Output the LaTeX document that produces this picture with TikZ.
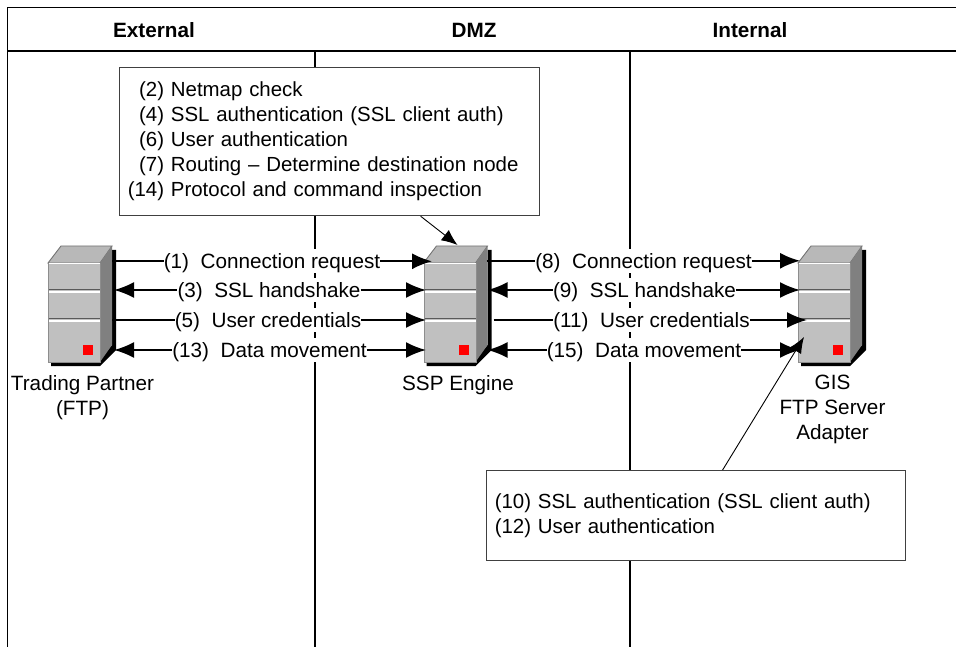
\documentclass[tikz,border=0pt]{standalone}
\usepackage{fontspec}
\setmainfont{Liberation Sans}
\usetikzlibrary{arrows.meta,positioning}
\definecolor{srvfront}{HTML}{C0C0C0}
\definecolor{srvside}{HTML}{808080}
\definecolor{srvtop}{HTML}{B8B8B8}
\tikzset{lane/.style={draw=black,line width=1.2pt},
		title/.style={font=\fontsize{20.7}{25}\selectfont\bfseries,inner sep=0pt},
		flowlabel/.style={font=\fontsize{20.7}{25}\selectfont,fill=white,inner sep=0pt,text height=19.5pt,text depth=4.7pt},
		caption/.style={font=\fontsize{20.7}{25}\selectfont,align=center,inner sep=0pt},
		notebox/.style={rectangle,draw=black!75,line width=1.2pt,fill=white,font=\fontsize{20.43}{25}\selectfont,align=left,inner xsep=8.2pt,inner ysep=0pt,anchor=north west},
		post/.style={-{Latex[length=20pt,width=16pt]},line width=1.9pt},
		pre/.style={{Latex[length=20pt,width=16pt]}-,line width=1.9pt},
		plain/.style={line width=1.9pt},
		callout/.style={-{Latex[length=16pt,width=13pt]},line width=0.9pt}}
% #1 node name, #2 left edge of the front face
\newcommand{\serverbox}[2]{
	\begin{scope}[xshift=#2pt]
		\fill[black] (3,360) -- (3,366) -- (52,366) -- (68,350) -- (68,250) -- (64,250) -- (64,345) -- (52,360) -- cycle;
		\draw[srvside!110,fill=srvtop,line width=0.9pt] (0,263) -- (13,246) -- (64,246) -- (52,263) -- cycle;
		\fill[srvside] (52,263) -- (64,246) -- (64,345) -- (52,362) -- cycle;
		\node[rectangle,draw=srvside!90,fill=srvfront,line width=1pt,minimum width=52pt,minimum height=99pt,inner sep=0pt,anchor=north west] (#1) at (0,263) {};
		\draw[white,line width=1.3pt] (1,263.5) -- (52,263.5);
		\foreach \bandy in {289.5,318.5} {
			\draw[srvside!70!black,line width=1.3pt] (1,\bandy) -- (52,\bandy);
			\draw[white,line width=1.8pt] (1,\bandy+2.5) -- (52,\bandy+2.5);
		}
		\fill[red] (35,345) rectangle (45,354.5);
	\end{scope}
}
\begin{document}
\begin{tikzpicture}[x=1pt,y=-1pt]
	\useasboundingbox (0,0) rectangle (956,647);
	\draw[lane] (956,7.5) -- (7.5,7.5) -- (7.5,647);
	\draw[lane] (7.5,51) -- (956,51);
	\draw[lane] (315,51) -- (315,647);
	\draw[lane] (630,51) -- (630,647);
	\node[title] (external) at (154,30) {External};
	\node[title] (dmz) at (474,30) {DMZ};
	\node[title] (internal) at (750,30) {Internal};

	\node[notebox,text width=403.6pt,minimum height=148pt] (checks) at (119,67) {\raisebox{-1pt}{\begin{tabular}{@{}r@{ }l@{}}
		(2) & Netmap check\\
		(4) & SSL authentication (SSL client auth)\\
		(6) & User authentication\\
		(7) & Routing – Determine destination node\\
		(14) & Protocol and command inspection
	\end{tabular}}};
	\node[notebox,text width=402.6pt,minimum height=90pt] (gischecks) at (486,470) {\raisebox{-1pt}{\begin{tabular}{@{}l@{}}
		(10) SSL authentication (SSL client auth)\\
		(12) User authentication
	\end{tabular}}};

	\serverbox{partner}{48}
	\serverbox{engine}{423.5}
	\serverbox{gis}{798}
	\node[caption,below=12.5pt of partner,xshift=8pt] (partner-name) {Trading Partner\\(FTP)};
	\node[caption,below=12.5pt of engine,xshift=8pt] (engine-name) {SSP Engine};
	\node[caption,below=11.5pt of gis,xshift=8pt] (gis-name) {GIS\\FTP Server\\Adapter};

	% trading partner to engine
	\node[flowlabel] (request-a) at (272,261.3) {(1)\ \ Connection request};
	\node[flowlabel] (handshake-a) at (269,290) {(3)\ \ SSL handshake};
	\node[flowlabel] (credentials-a) at (268,320) {(5)\ \ User credentials};
	\node[flowlabel] (movement-a) at (269.5,350) {(13)\ \ Data movement};
	\draw[plain] ([xshift=11pt]partner.east |- request-a) -- (request-a.west);
	\draw[post] (request-a.east) -- ([xshift=8.5pt]engine.west |- request-a);
	\draw[pre] ([xshift=13pt]partner.east |- handshake-a) -- (handshake-a.west);
	\draw[post] (handshake-a.east) -- ([xshift=2.5pt]engine.west |- handshake-a);
	\draw[plain] ([xshift=11pt]partner.east |- credentials-a) -- (credentials-a.west);
	\draw[post] (credentials-a.east) -- ([xshift=2.5pt]engine.west |- credentials-a);
	\draw[pre] ([xshift=13pt]partner.east |- movement-a) -- (movement-a.west);
	\draw[post] (movement-a.east) -- ([xshift=2.5pt]engine.west |- movement-a);

	% engine to adapter
	\node[flowlabel] (request-b) at (643.5,260.8) {(8)\ \ Connection request};
	\node[flowlabel] (handshake-b) at (644.5,290) {(9)\ \ SSL handshake};
	\node[flowlabel] (credentials-b) at (651.5,320) {(11)\ \ User credentials};
	\node[flowlabel] (movement-b) at (644,350) {(15)\ \ Data movement};
	\draw[plain] ([xshift=10pt]engine.east |- request-b) -- (request-b.west);
	\draw[post] (request-b.east) -- ([xshift=2pt]gis.west |- request-b);
	\draw[pre] ([xshift=11pt]engine.east |- handshake-b) -- (handshake-b.west);
	\draw[post] (handshake-b.east) -- ([xshift=2pt]gis.west |- handshake-b);
	\draw[plain] ([xshift=17pt]engine.east |- credentials-b) -- (credentials-b.west);
	\draw[post] (credentials-b.east) -- ([xshift=9pt]gis.west |- credentials-b);
	\draw[pre] ([xshift=11pt]engine.east |- movement-b) -- (movement-b.west);
	\draw[post] (movement-b.east) -- ([xshift=2pt]gis.west |- movement-b);

	\draw[callout] ([xshift=91pt]checks.south) -- ([xshift=7.5pt,yshift=18pt]engine.north);
	\draw[callout] ([xshift=26.5pt]gischecks.north) -- ([xshift=6pt,yshift=26pt]gis.south west);
\end{tikzpicture}
\end{document}
